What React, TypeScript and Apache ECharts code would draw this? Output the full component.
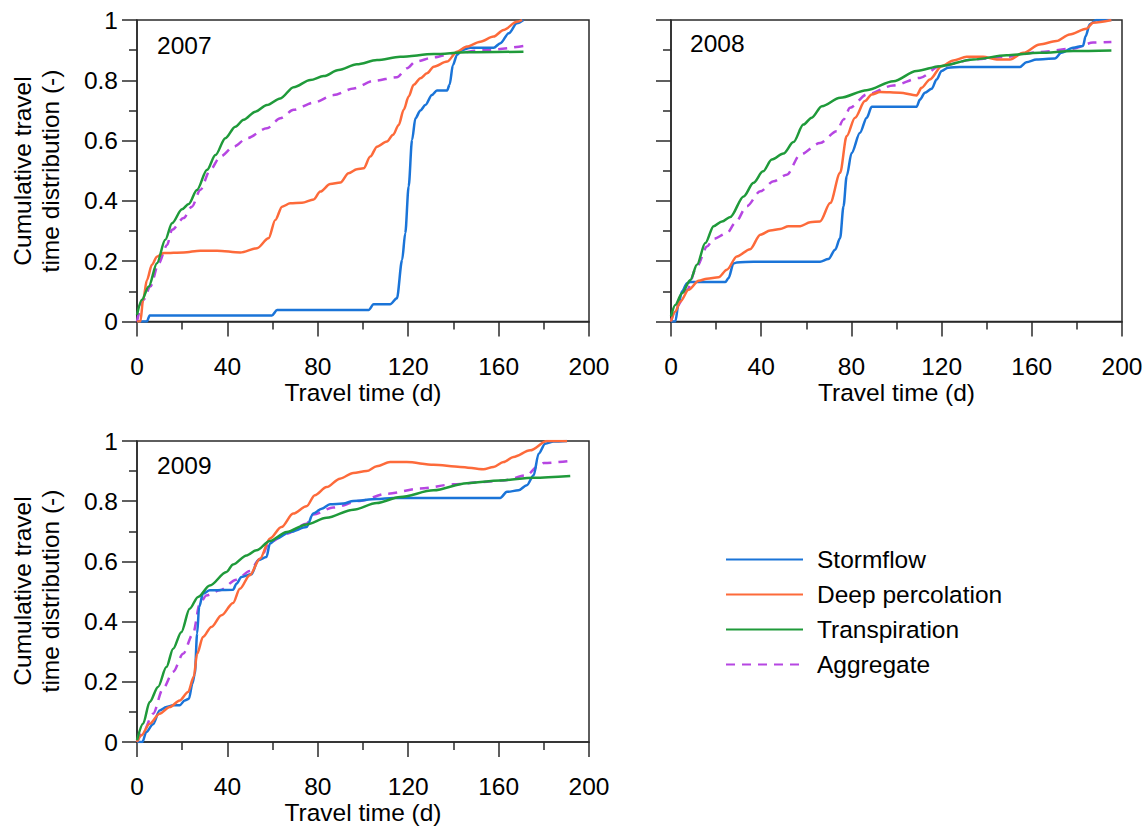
import React, { useEffect, useRef } from "react";
import * as echarts from "echarts";

const YEARS = ["2007", "2008", "2009"];
const SERIES_NAMES = ["Stormflow", "Deep percolation", "Transpiration", "Aggregate"];
const Y_LABEL_LINES = ["Cumulative travel", "time distribution (-)"];
const X_AXIS_NAME = "Travel time (d)";

// 2007
const storm2007 = [[0,0],[4.4,0],[5.6,0.02],[59.7,0.02],[62,0.038],[102.5,0.038],[104.7,0.057],[112,0.057],[115,0.077],[117.3,0.204],[118.7,0.293],[120.2,0.448],[121.7,0.602],[123.2,0.674],[125.4,0.7],[127.6,0.718],[130.5,0.751],[132.7,0.766],[137.2,0.766],[138.3,0.785],[139.8,0.851],[141.6,0.884],[143.8,0.9],[147.5,0.908],[157.8,0.908],[160.8,0.923],[164.5,0.956],[168.1,0.989],[171,1.0]];
const deep2007 = [[0,0],[1.5,0],[2.7,0.072],[4.4,0.138],[6.6,0.188],[8.8,0.215],[11.8,0.227],[20.6,0.229],[28,0.235],[35.4,0.235],[45.7,0.229],[53.1,0.243],[58.2,0.276],[61.2,0.337],[64.2,0.381],[67.8,0.392],[73,0.394],[78.2,0.405],[81.1,0.431],[85.5,0.456],[90,0.461],[93.6,0.492],[97.3,0.505],[100.3,0.508],[103.2,0.547],[106.2,0.58],[110.6,0.597],[113.3,0.619],[115.8,0.652],[118,0.702],[120.2,0.746],[122.4,0.785],[125.4,0.807],[128.3,0.823],[131.3,0.845],[137.2,0.862],[141.6,0.895],[146,0.912],[151.9,0.928],[157.8,0.945],[162.2,0.967],[168.1,0.994],[170.4,1.0]];
const transp2007 = [[0,0.022],[2.2,0.072],[5.2,0.116],[8.8,0.193],[12.5,0.271],[15.5,0.326],[19.9,0.372],[22.9,0.39],[26.5,0.436],[31,0.503],[34.7,0.552],[39.1,0.608],[43.5,0.646],[47.2,0.669],[52.4,0.696],[57.5,0.718],[63.4,0.74],[69.3,0.777],[76.7,0.801],[82.6,0.814],[89.2,0.834],[97.3,0.853],[106.2,0.867],[116.5,0.878],[131.3,0.887],[146,0.893],[171,0.895]];
const aggr2007 = [[0,0],[2.9,0.072],[5.9,0.116],[9.6,0.193],[13.3,0.254],[15.5,0.304],[20.6,0.343],[24.3,0.381],[28,0.436],[32.4,0.503],[36.9,0.547],[42.8,0.58],[48.7,0.608],[57.5,0.641],[63.4,0.674],[69.3,0.702],[78.2,0.726],[87,0.751],[95.9,0.773],[104.7,0.798],[115,0.81],[119.5,0.84],[123.2,0.862],[131.3,0.876],[140.1,0.89],[153.4,0.9],[171,0.914]];

// 2008
const storm2008 = [[0,0],[1.9,0],[3.4,0.061],[4.9,0.1],[7.1,0.127],[8.6,0.131],[24.1,0.131],[25.5,0.144],[27.7,0.192],[29.2,0.196],[36.6,0.198],[66.1,0.198],[69.8,0.207],[72.8,0.238],[75,0.277],[76.5,0.382],[77.9,0.482],[80.1,0.559],[83.8,0.626],[86.8,0.676],[89,0.712],[92.7,0.712],[108.9,0.712],[110.4,0.736],[112.6,0.759],[115.6,0.772],[117.8,0.803],[120,0.831],[122.9,0.842],[128.1,0.844],[154.7,0.844],[157.6,0.86],[162.1,0.869],[170.2,0.872],[173.1,0.891],[178.3,0.908],[182.7,0.914],[183.9,0.947],[185.7,0.986],[188.6,1.0],[195.3,1.0]];
const deep2008 = [[0,0],[1.9,0.033],[4.1,0.066],[7.8,0.105],[12.3,0.135],[15.9,0.142],[21.1,0.147],[24.8,0.172],[29.2,0.216],[35.1,0.24],[39.6,0.288],[44,0.302],[48.4,0.307],[52.1,0.316],[57.3,0.316],[61.7,0.329],[66.1,0.332],[70.6,0.393],[75,0.493],[77.9,0.615],[81.6,0.676],[86,0.731],[89,0.753],[92.7,0.761],[101.5,0.759],[108.9,0.75],[111.1,0.775],[114.8,0.803],[120,0.847],[125.2,0.866],[131.1,0.878],[138.4,0.878],[144.4,0.869],[150.3,0.869],[156.2,0.891],[163.5,0.919],[170.9,0.93],[176.8,0.952],[184.2,0.971],[187.2,0.991],[195.3,1.0]];
const transp2008 = [[0,0.017],[1.9,0.055],[4.9,0.094],[8.6,0.138],[11.5,0.188],[15.2,0.26],[18.9,0.316],[22.6,0.332],[26.3,0.347],[32.2,0.415],[36.6,0.46],[40.8,0.498],[44.7,0.537],[49.9,0.557],[54.3,0.595],[58.7,0.653],[62.4,0.676],[66.9,0.714],[75,0.742],[86.8,0.767],[98.6,0.797],[108.9,0.831],[119.3,0.847],[134,0.869],[148.8,0.883],[163.5,0.891],[178.3,0.897],[195.3,0.899]];
const aggr2008 = [[0,0],[2.7,0.05],[7.1,0.105],[11.5,0.183],[16,0.249],[18.9,0.274],[24.8,0.293],[28.5,0.327],[33.6,0.382],[39.6,0.432],[45.5,0.465],[51.4,0.487],[57.3,0.554],[66.1,0.592],[73.5,0.631],[76.5,0.67],[79.4,0.709],[86.8,0.753],[98.6,0.783],[110.4,0.808],[119.3,0.847],[134,0.869],[148.8,0.878],[163.5,0.894],[178.3,0.905],[187.2,0.925],[195.3,0.927]];

// 2009
const storm2009 = [[0,0],[2.4,0],[4.1,0.033],[7.1,0.059],[10,0.105],[13,0.116],[16,0.122],[18.9,0.122],[21.1,0.138],[23,0.144],[24.5,0.194],[25.6,0.227],[26.6,0.36],[27.5,0.449],[29.2,0.493],[32.2,0.504],[42.5,0.506],[44,0.526],[46.2,0.548],[50.6,0.557],[53.6,0.604],[57.3,0.615],[58.8,0.659],[61.7,0.676],[67.7,0.698],[75,0.714],[78,0.759],[81.7,0.775],[85.4,0.79],[91.3,0.792],[95.7,0.801],[106.1,0.807],[113.4,0.811],[160.7,0.811],[163.7,0.831],[168.8,0.836],[172.5,0.853],[175.5,0.886],[177.7,0.958],[180.6,0.991],[184.3,0.998],[190.3,1.0]];
const deep2009 = [[0,0],[1.9,0.022],[5.6,0.061],[10,0.094],[14.5,0.116],[18.9,0.138],[22.6,0.166],[25.1,0.216],[26.6,0.293],[29.2,0.349],[32.9,0.382],[37.4,0.421],[42.5,0.462],[45.5,0.509],[49.9,0.554],[54.4,0.609],[58.8,0.676],[63.9,0.714],[69.1,0.759],[75,0.783],[78.7,0.82],[83.9,0.847],[89.8,0.875],[95.7,0.894],[101.6,0.9],[106.1,0.916],[112,0.93],[119.4,0.93],[131.2,0.921],[143,0.914],[153.3,0.906],[157.7,0.914],[162.2,0.93],[166.6,0.947],[174,0.969],[181.4,1.0],[190.3,1.0]];
const transp2009 = [[0,0.006],[2.7,0.061],[5.6,0.133],[9.3,0.183],[13,0.249],[16,0.31],[19.6,0.365],[23.3,0.443],[27,0.482],[32.2,0.52],[39.6,0.565],[42.5,0.59],[48.5,0.62],[52.9,0.637],[58.8,0.668],[66.2,0.698],[75,0.723],[83.9,0.745],[95.7,0.772],[106.1,0.794],[116.4,0.814],[131.2,0.836],[145.9,0.86],[160.7,0.869],[175.5,0.878],[191.7,0.884]];
const aggr2009 = [[0,0],[2.7,0.033],[7.1,0.094],[11.5,0.177],[16,0.233],[20.4,0.293],[24.8,0.36],[27.8,0.46],[30.7,0.487],[36.6,0.504],[44,0.539],[49.9,0.568],[54.4,0.609],[58.8,0.664],[66.2,0.692],[75,0.725],[78,0.756],[86.9,0.779],[98.7,0.801],[110.5,0.825],[125.3,0.842],[140,0.856],[153.3,0.864],[162.2,0.869],[172.5,0.886],[177,0.914],[180,0.927],[191.7,0.934]];

const PANEL_DATA = [
  [storm2007, deep2007, transp2007, aggr2007],
  [storm2008, deep2008, transp2008, aggr2008],
  [storm2009, deep2009, transp2009, aggr2009],
];

const COLORS = ["#1a74d8", "#fd6a3a", "#1f9a3a", "#b646e2"];
const FONT = "'Liberation Sans', Arial, sans-serif";
const FS = 24.5;
const AXIS_COLOR = "#2a2a2a";

const GRIDS = [
  { left: 137, top: 20, width: 452, height: 301.5 },
  { left: 671, top: 20, width: 451, height: 301.5 },
  { left: 137, top: 441, width: 452, height: 301 },
];

export default function App() {
  const ref = useRef<HTMLDivElement>(null);
  useEffect(() => {
    if (!ref.current) return;
    const chart = echarts.init(ref.current, undefined, { renderer: "svg" });
    const lineStyle = { color: AXIS_COLOR, width: 1.5 };
    const xAxes = GRIDS.map((_, i) => ({
      gridIndex: i,
      type: "value",
      min: 0,
      max: 200,
      interval: 40,
      axisLine: { show: true, onZero: false, lineStyle },
      axisTick: { show: true, inside: false, length: 15, lineStyle },
      minorTick: { show: true, splitNumber: 2, length: 8, lineStyle },
      splitLine: { show: false },
      minorSplitLine: { show: false },
      axisLabel: { fontSize: FS, color: "#000", margin: 32, fontFamily: FONT },
      name: X_AXIS_NAME,
      nameLocation: "middle",
      nameGap: 58,
      nameTextStyle: { fontSize: FS, color: "#000", fontFamily: FONT },
    }));
    const yAxes = GRIDS.map((_, i) => ({
      gridIndex: i,
      type: "value",
      min: 0,
      max: 1,
      interval: 0.2,
      axisLine: { show: true, onZero: false, lineStyle },
      axisTick: { show: true, inside: false, length: 15, lineStyle },
      minorTick: { show: true, splitNumber: 2, length: 8, lineStyle },
      splitLine: { show: false },
      minorSplitLine: { show: false },
      axisLabel: {
        show: i !== 1,
        fontSize: FS,
        color: "#000",
        margin: 19,
        fontFamily: FONT,
        formatter: (v: number) => (v === 0 ? "0" : v === 1 ? "1" : v.toFixed(1)),
      },
    }));
    const series: any[] = [];
    PANEL_DATA.forEach((panel, p) => {
      panel.forEach((data, s) => {
        series.push({
          name: SERIES_NAMES[s],
          type: "line",
          xAxisIndex: p,
          yAxisIndex: p,
          data,
          symbol: "none",
          showSymbol: false,
          smooth: 0.3,
          smoothMonotone: "x",
          color: COLORS[s],
          lineStyle: {
            color: COLORS[s],
            width: 2.5,
            type: s === 3 ? [9, 7] : "solid",
          },
          z: s === 3 ? 2 : 3,
        });
      });
    });
    const yearPos = [
      [157, 45],
      [690, 43],
      [157, 465],
    ];
    const graphic: any[] = [];
    YEARS.forEach((yr, i) => {
      graphic.push({
        type: "text",
        x: yearPos[i][0],
        y: yearPos[i][1],
        style: { text: yr, fontSize: FS, fill: "#000", fontFamily: FONT, align: "left", verticalAlign: "middle" },
      });
    });
    [171, 591].forEach((cy) => {
      [22, 50].forEach((cx, li) => {
        graphic.push({
          type: "text",
          x: cx,
          y: cy,
          rotation: Math.PI / 2,
          style: { text: Y_LABEL_LINES[li], fontSize: FS, fill: "#000", fontFamily: FONT, align: "center", verticalAlign: "middle" },
        });
      });
    });
    chart.setOption({
      animation: false,
      backgroundColor: "#fff",
      grid: GRIDS.map((g) => ({ ...g, show: true, borderColor: AXIS_COLOR, borderWidth: 1.5, backgroundColor: "transparent" })),
      xAxis: xAxes,
      yAxis: yAxes,
      legend: {
        orient: "vertical",
        left: 725,
        top: 547,
        padding: 0,
        itemWidth: 77,
        itemHeight: 24,
        itemGap: 10,
        data: SERIES_NAMES.map((name) => ({ name })),
        itemStyle: { opacity: 0 },
        textStyle: { fontSize: FS, color: "#000", fontFamily: FONT, padding: [0, 0, 0, 9], height: 24, lineHeight: 24 },
      },
      series,
      graphic,
    });
    return () => chart.dispose();
  }, []);
  return (
    <div
      ref={ref}
      style={{ position: "fixed", left: 0, top: 0, width: 1148, height: 827, background: "#fff" }}
    />
  );
}
